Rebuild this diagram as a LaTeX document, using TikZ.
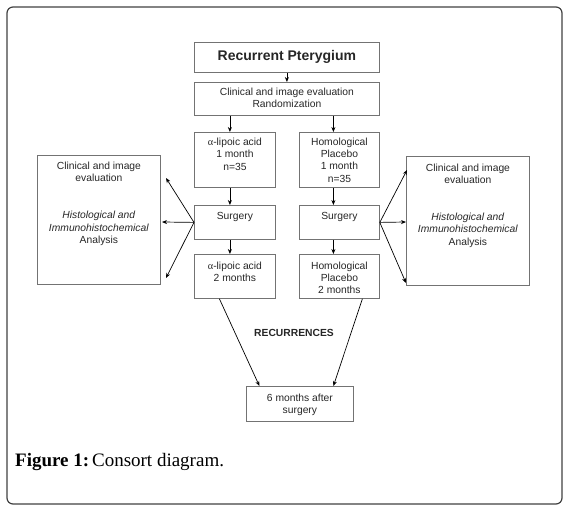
\documentclass[tikz,border=0pt]{standalone}
\usepackage{fontspec}
\setmainfont{Liberation Sans}
\newfontfamily\capfont{Liberation Serif}
\usetikzlibrary{arrows.meta}
\tikzset{
  boxx/.style={draw=black!55, line width=0.8pt, inner sep=0, anchor=north west},
  txt/.style={anchor=north, inner sep=0, align=center, text=black!85,
              font=\fontsize{10.3}{12.3}\selectfont},
  arr/.style={draw=black, line width=0.7pt, -{Stealth[length=5pt,width=4pt]}},
  ln/.style={draw=black, line width=0.7pt}
}
\begin{document}
\begin{tikzpicture}[x=1pt,y=-1pt]
\useasboundingbox (0,0) rectangle (573,513);
% outer frame
\draw[black!75, line width=1.2pt, rounded corners=6pt] (7,7) rectangle (562,504);

% boxes
\node[boxx, minimum width=185, minimum height=30] (rp) at (194,42) {};
\node[boxx, minimum width=185, minimum height=33] (clin) at (194,82) {};
\node[boxx, minimum width=81, minimum height=55] (lip1) at (194,132) {};
\node[boxx, minimum width=80, minimum height=55] (plc1) at (299,132) {};
\node[boxx, minimum width=81, minimum height=34] (surgL) at (194,205) {};
\node[boxx, minimum width=80, minimum height=34] (surgR) at (299,205) {};
\node[boxx, minimum width=81, minimum height=44] (lip2) at (194,254) {};
\node[boxx, minimum width=80, minimum height=44] (plc2) at (299,254) {};
\node[boxx, minimum width=107, minimum height=35] (six) at (246,386) {};
\node[boxx, minimum width=123, minimum height=129] (bigL) at (37,155) {};
\node[boxx, minimum width=123, minimum height=129] (bigR) at (406,156) {};

% texts
\node[txt, font=\fontsize{14}{16}\selectfont\bfseries] (rpt) at ([yshift=-8]rp.north) {Recurrent Pterygium};
\node[txt] (clint) at ([yshift=-6]clin.north) {Clinical and image evaluation\\Randomization};
\node[txt] (lip1t) at ([yshift=-6]lip1.north) {{\capfont α}-lipoic acid\\1 month\\n=35};
\node[txt] (plc1t) at ([yshift=-5.5]plc1.north) {Homological\\Placebo\\1 month\\n=35};
\node[txt] (surgLt) at ([yshift=-7]surgL.north) {Surgery};
\node[txt] (surgRt) at ([yshift=-7]surgR.north) {Surgery};
\node[txt] (lip2t) at ([yshift=-7.5]lip2.north) {{\capfont α}-lipoic acid\\2 months};
\node[txt] (plc2t) at ([yshift=-7.5]plc2.north) {Homological\\Placebo\\2 months};
\node[txt] (sixt) at ([yshift=-8]six.north) {6 months after\\surgery};
\node[txt] (bigLt) at ([yshift=-7]bigL.north) {Clinical and image\\evaluation\\[24.7pt]\textit{Histological and}\\\textit{Immunohistochemical}\\Analysis};
\node[txt] (bigRt) at ([yshift=-7.5]bigR.north) {Clinical and image\\evaluation\\[24.7pt]\textit{Histological and}\\\textit{Immunohistochemical}\\Analysis};
\node[txt, anchor=center, font=\fontsize{10.3}{12.3}\selectfont\bfseries] (rec) at (294,332.5) {RECURRENCES};

% vertical arrows
\draw[arr] (rp.south) -- (clin.north);
\draw[arr] ([xshift=-5]lip1.north |- clin.south) -- ([xshift=-5]lip1.north);
\draw[arr] ([xshift=-6]plc1.north |- clin.south) -- ([xshift=-6]plc1.north);
\draw[arr] ([xshift=-5]lip1.south) -- ([xshift=-5]surgL.north);
\draw[arr] ([xshift=-6]plc1.south) -- ([xshift=-6]surgR.north);
\draw[arr] ([xshift=-5]surgL.south) -- ([xshift=-5]lip2.north);
\draw[arr] ([xshift=-6]surgR.south) -- ([xshift=-6]plc2.north);

% fan-out arrows
\coordinate (oL) at (surgL.west);
\coordinate (oR) at (surgR.east);
\coordinate (L1) at (166,178);
\coordinate (L2) at (162,222);
\coordinate (L3) at (166,278);
\coordinate (R1) at (407,170);
\coordinate (R2) at (406,222);
\coordinate (R3) at (406,283);
\draw[arr] (oL) -- (L1);
\draw[arr] (oL) -- (L2);
\draw[arr] (oL) -- (L3);
\draw[arr] (oR) -- (R1);
\draw[arr] (oR) -- (R2);
\draw[arr] (oR) -- (R3);

% converging arrows
\draw[arr] ([xshift=-15.5]lip2.south) -- ([xshift=-40.5]six.north);
\draw[arr] ([xshift=23]plc2.south) -- ([xshift=33.5]six.north);

% caption
\node[anchor=base west, inner sep=0, font=\capfont\fontsize{19}{21}\selectfont] (cap) at (15,466) {\textbf{Figure 1:}\hspace{0.15em}Consort diagram.};
\end{tikzpicture}
\end{document}
